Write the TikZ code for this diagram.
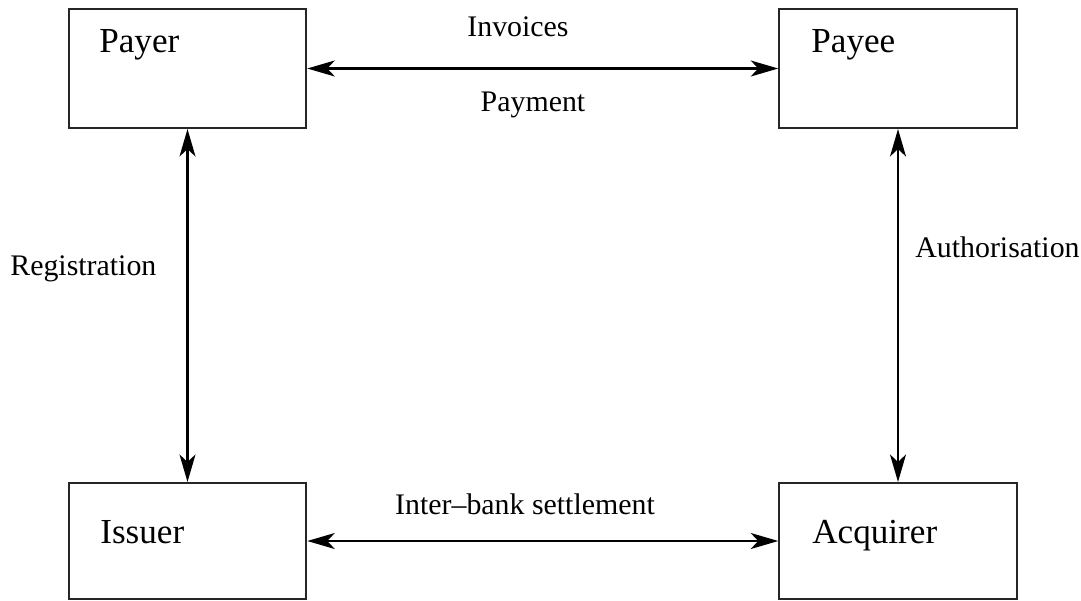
\documentclass[tikz,border=0pt]{standalone}
\usepackage{fontspec}
\setmainfont{Liberation Serif}
\usetikzlibrary{arrows.meta}

\tikzset{
  box/.style={draw=black!85, line width=1.2pt, minimum width=4.75cm, inner sep=0pt},
  flow/.style={line width=1.2pt, {Stealth[length=5.5mm,width=3.2mm,inset=1.5mm]}-{Stealth[length=5.5mm,width=3.2mm,inset=1.5mm]}},
  party/.style={font=\fontsize{20}{24}\selectfont, anchor=base west, inner sep=0pt},
  msg/.style={anchor=base, inner sep=0pt}
}

\begin{document}
\begin{tikzpicture}[x=0.02cm,y=-0.02cm,font=\fontsize{17}{20}\selectfont]

\useasboundingbox (0,0) rectangle (1081,601);

% the four parties
\node[box, minimum height=2.38cm] (payer) at (187.5,68.5) {};
\node[box, minimum height=2.38cm] (payee) at (898,68.5) {};
\node[box, minimum height=2.32cm] (issuer) at (187.5,541) {};
\node[box, minimum height=2.32cm] (acquirer) at (898,541) {};

\node[party] (tpayer) at (99,53) {Payer};
\node[party] (tpayee) at (811,53) {Payee};
\node[party] (tissuer) at (100,543) {Issuer};
\node[party] (tacquirer) at (812,543) {Acquirer};

% flows between them
\draw[flow] (payer.east) -- (payee.west);
\draw[flow] (issuer.east) -- (acquirer.west);
\draw[flow] (payer.south) -- (issuer.north);
\draw[flow] (payee.south) -- (acquirer.north);

\node[msg] (invoices) at (518,37) {Invoices};
\node[msg] (payment) at (533,112) {Payment};
\node[msg] (settle) at (525,514) {Inter--bank settlement};
\node[msg, anchor=base west] (regist) at (10,275) {Registration};
\node[msg, anchor=base west] (auth) at (915,257) {Authorisation};

\end{tikzpicture}
\end{document}
